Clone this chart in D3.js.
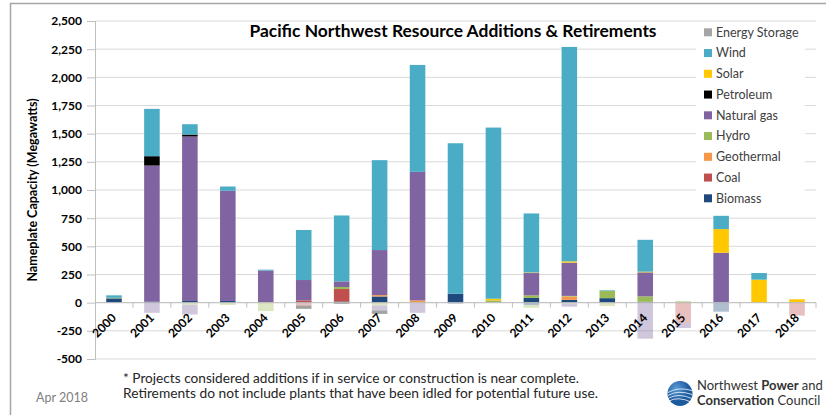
<html>
<head>
<meta charset="utf-8">
<style>
    body { margin: 0; background: white; }
    text { font-family: Lato, "Open Sans", sans-serif; }
    .grid line { stroke: #d9d9d9; }
    .yaxis text, .xlab { font-weight: bold; font-size: 12px; fill: #000; }
</style>
</head>
<body>
<svg id="container" width="835" height="415"></svg>
<script src="https://cdn.jsdelivr.net/npm/d3@7"></script>
<script>
    // years on the x axis
    let years = d3.range(2000, 2019).map(String)

    // additions (MW)
    let biomassAdd    = [38, 8, 15, 15, 0, 5, 10, 55, 0, 80, 0, 42, 25, 40, 8, 0, 0, 0, 0]
    let coalAdd       = [0, 0, 0, 0, 0, 15, 111, 0, 0, 0, 0, 0, 0, 0, 0, 0, 0, 0, 0]
    let geothermalAdd = [0, 0, 0, 0, 0, 0, 0, 12, 20, 0, 0, 0, 30, 0, 0, 0, 0, 0, 0]
    let hydroAdd      = [5, 0, 0, 0, 5, 0, 18, 0, 0, 0, 20, 23, 5, 65, 48, 10, 0, 0, 5]
    let gasAdd        = [0, 1209, 1460, 978, 280, 181, 50, 400, 1141, 0, 0, 198, 295, 0, 213, 0, 443, 0, 0]
    let petroleumAdd  = [0, 83, 17, 0, 0, 0, 0, 0, 0, 0, 0, 0, 0, 0, 0, 0, 0, 0, 0]
    let solarAdd      = [0, 0, 0, 0, 0, 0, 0, 0, 0, 0, 15, 5, 12, 0, 6, 0, 210, 204, 25]
    let windAdd       = [22, 420, 92, 38, 8, 444, 585, 798, 949, 1335, 1519, 524, 1903, 5, 283, 0, 118, 59, 0]
    let storageAdd    = [0, 0, 0, 0, 0, 0, 0, 0, 0, 0, 0, 0, 0, 0, 0, 0, 0, 0, 0]

    // retirements (MW, negative)
    let biomassRet    = [0, 0, 0, 0, 0, 0, 0, 0, 0, -8, 0, -20, 0, 0, 0, 0, -80, 0, 0]
    let coalRet       = [0, 0, 0, 0, 0, -25, 0, 0, 0, 0, 0, 0, 0, 0, 0, -180, 0, 0, -115]
    let hydroRet      = [0, 0, -20, -20, -75, 0, 0, -25, 0, 0, 0, -25, -8, -30, 0, 0, 0, 0, 0]
    let gasRet        = [0, -90, -85, 0, 0, 0, 0, -45, -90, 0, 0, 0, -28, 0, -320, -45, 0, 0, 0]
    let petroleumRet  = [0, 0, 0, 0, 0, -30, -10, -30, 0, 0, 0, 0, 0, 0, 0, 0, 0, 0, 0]

    let yTicks = d3.range(-500, 2501, 250)

    let keys = ["Biomass", "Coal", "Geothermal", "Hydro", "Natural gas", "Petroleum", "Solar", "Wind", "Energy Storage"]
    let colors = {
        "Biomass": "#1f497d", "Coal": "#c0504d", "Geothermal": "#f79646", "Hydro": "#9bbb59",
        "Natural gas": "#8064a2", "Petroleum": "#000000", "Solar": "#ffc800", "Wind": "#4bacc6",
        "Energy Storage": "#a5a5a5"
    }
    let zeros = years.map(() => 0)
    let addData = {
        "Biomass": biomassAdd, "Coal": coalAdd, "Geothermal": geothermalAdd, "Hydro": hydroAdd,
        "Natural gas": gasAdd, "Petroleum": petroleumAdd, "Solar": solarAdd, "Wind": windAdd,
        "Energy Storage": storageAdd
    }
    let retData = {
        "Biomass": biomassRet, "Coal": coalRet, "Geothermal": zeros, "Hydro": hydroRet,
        "Natural gas": gasRet, "Petroleum": petroleumRet, "Solar": zeros, "Wind": zeros,
        "Energy Storage": zeros
    }

    function rows(src) {
        return years.map((y, i) => {
            let r = { year: y }
            keys.forEach(k => r[k] = src[k][i])
            return r
        })
    }

    let svg = d3.select("#container")

    // slide frame
    svg.append("path")
        .attr("d", "M10.5,420 V3.5 H826")
        .attr("fill", "none").attr("stroke", "#a6a6a6").attr("stroke-width", 1.5)

    let x = d3.scaleBand().domain(years).range([95, 816])
        .paddingInner(0.59).paddingOuter(0.295)
    let y = d3.scaleLinear().domain([-500, 2500]).range([359, 21])

    // gridlines
    svg.append("g").attr("class", "grid")
        .selectAll("line").data(yTicks).enter().append("line")
        .attr("x1", 95).attr("x2", 816)
        .attr("y1", d => y(d)).attr("y2", d => y(d))

    // y axis, hyphen minus like the original
    let fmt = d => (d < 0 ? "-" : "") + d3.format(",")(Math.abs(d))
    let yAxis = svg.append("g").attr("class", "yaxis")
        .attr("transform", "translate(95,0)")
        .call(d3.axisLeft(y).tickValues(yTicks).tickSize(8).tickPadding(5).tickFormat(fmt))
    yAxis.select(".domain").attr("stroke", "#bfbfbf")
    yAxis.selectAll(".tick line").attr("stroke", "#bfbfbf")
    yAxis.selectAll("text").attr("font-family", "Lato")

    let stack = d3.stack().keys(keys).offset(d3.stackOffsetDiverging)
    let addSeries = stack(rows(addData))
    let retSeries = stack(rows(retData))

    function drawBars(series, opacity) {
        svg.append("g").selectAll("g").data(series).enter().append("g")
            .attr("fill", d => colors[d.key]).attr("fill-opacity", opacity)
            .selectAll("rect").data(d => d).enter().append("rect")
            .attr("x", d => x(d.data.year))
            .attr("width", x.bandwidth())
            .attr("y", d => y(Math.max(d[0], d[1])))
            .attr("height", d => Math.abs(y(d[0]) - y(d[1])))
    }
    drawBars(addSeries, 1)
    drawBars(retSeries, 0.36)

    // x axis at zero
    let y0 = y(0)
    svg.append("line").attr("x1", 95).attr("x2", 816).attr("y1", y0).attr("y2", y0)
        .attr("stroke", "#bfbfbf")
    svg.append("g").selectAll("line").data(d3.range(1, years.length + 1)).enter().append("line")
        .attr("x1", i => 95 + i * x.step()).attr("x2", i => 95 + i * x.step())
        .attr("y1", y0).attr("y2", y0 + 5)
        .attr("stroke", "#bfbfbf")
    svg.append("g").selectAll("text").data(years).enter().append("text")
        .attr("class", "xlab")
        .attr("font-size", 12.5)
        .attr("text-anchor", "end")
        .attr("transform", d => `translate(${x(d) + x.bandwidth() / 2},${y0 + 13}) rotate(-45)`)
        .attr("dy", "0.35em")
        .text(d => d)

    // y axis title
    svg.append("text")
        .attr("transform", `translate(37,${(y(2500) + y(-500)) / 2}) rotate(-90)`)
        .attr("text-anchor", "middle")
        .attr("font-size", 12.5).attr("font-weight", "bold")
        .text("Nameplate Capacity (Megawatts)")

    // title
    svg.append("text")
        .attr("x", 453).attr("y", 37)
        .attr("text-anchor", "middle")
        .attr("font-size", 17.4).attr("font-weight", "bold")
        .text("Pacific Northwest Resource Additions & Retirements")

    // legend
    svg.append("rect").attr("x", 696).attr("y", 24).attr("width", 109).attr("height", 186)
        .attr("fill", "white")
    let legendKeys = keys.slice().reverse()
    let lg = svg.append("g").selectAll("g").data(legendKeys).enter().append("g")
        .attr("transform", (d, i) => `translate(704,${32.3 + i * 20.75})`)
    lg.append("rect").attr("x", 0).attr("y", -4).attr("width", 8).attr("height", 8)
        .attr("fill", d => colors[d])
    lg.append("text").attr("x", 12).attr("dy", "0.35em")
        .attr("font-size", 12.5).attr("fill", "#404040")
        .text(d => d)

    // footnotes
    svg.append("text").attr("x", 123).attr("y", 383)
        .attr("font-size", 12.5).attr("fill", "#262626")
        .attr("textLength", 456).attr("lengthAdjust", "spacingAndGlyphs")
        .text("* Projects considered additions if in service or construction is near complete.")
    svg.append("text").attr("x", 123).attr("y", 398)
        .attr("font-size", 12.5).attr("fill", "#262626")
        .attr("textLength", 475).attr("lengthAdjust", "spacingAndGlyphs")
        .text("Retirements do not include plants that have been idled for potential future use.")
    svg.append("text").attr("x", 36).attr("y", 402)
        .attr("font-size", 12.5).attr("fill", "#808080")
        .text("Apr 2018")

    // council logo
    let defs = svg.append("defs")
    let grad = defs.append("radialGradient").attr("id", "logoGrad").attr("cx", "35%").attr("cy", "30%")
    grad.append("stop").attr("offset", "0%").attr("stop-color", "#5b9bd5")
    grad.append("stop").attr("offset", "100%").attr("stop-color", "#1c5a9e")
    let logo = svg.append("g").attr("transform", "translate(680,393.5)")
    logo.append("circle").attr("r", 12.5).attr("fill", "url(#logoGrad)")
    ;[-1, 2, 5, 8].forEach((o, i) => {
        logo.append("path")
            .attr("d", `M-12,${o} Q-2,${o - 6} 12,${o - 2 + i}`)
            .attr("fill", "none").attr("stroke", "white").attr("stroke-width", 0.9)
            .attr("opacity", 0.85)
    })
    let t1 = svg.append("text").attr("x", 697).attr("y", 390)
        .attr("font-size", 13).attr("fill", "#333")
    t1.append("tspan").text("Northwest ")
    t1.append("tspan").attr("font-weight", "bold").text("Power")
    t1.append("tspan").text(" and")
    let t2 = svg.append("text").attr("x", 697).attr("y", 405)
        .attr("font-size", 13).attr("fill", "#333")
    t2.append("tspan").attr("font-weight", "bold").text("Conservation")
    t2.append("tspan").text(" Council")
</script>
</body>
</html>
